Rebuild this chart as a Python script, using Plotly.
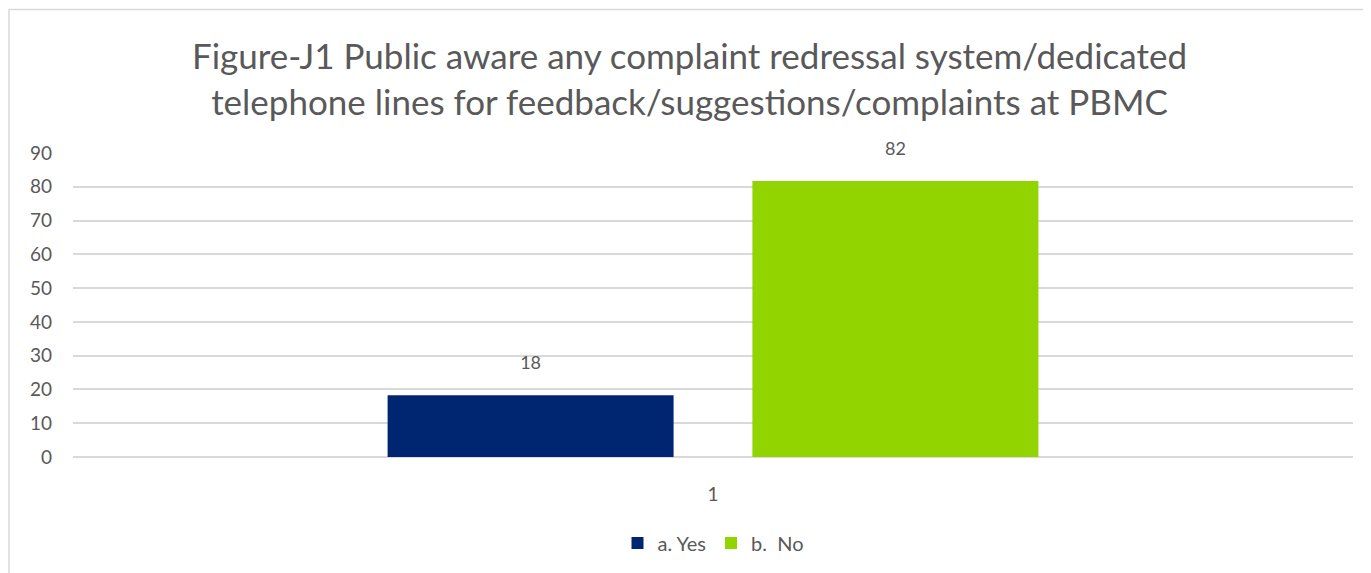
import plotly.graph_objects as go

categories = ["1"]
series_names = ["a. Yes", "b.  No"]
yes_values = [18.3]
no_values = [81.7]
colors = ["#002672", "#92D400"]
title_text = "Figure-J1 Public aware any complaint redressal system/dedicated<br>telephone lines for feedback/suggestions/complaints at PBMC"

FONT = "Lato, 'Open Sans', sans-serif"
GREY = "#595959"

fig = go.Figure()
for name, vals, col in zip(series_names, [yes_values, no_values], colors):
    fig.add_trace(go.Bar(
        x=categories, y=vals, name=name, marker_color=col,
        marker_line_width=0,
        texttemplate="%{y:.0f}<br><span style='font-size:1px'> </span>", textposition="outside",
        textfont=dict(size=18, color=GREY, family=FONT),
        cliponaxis=False,
    ))

# page body offsets the figure by 8px
OFF = 8
W, H = 1371 - OFF, 573 - OFF
L, R, T, B = 73 - OFF, 1371 - 1353, 153 - OFF, 573 - 458
pw, ph = W - L - R, H - T - B

fig.update_layout(
    width=W, height=H,
    margin=dict(l=L, r=R, t=T, b=B),
    paper_bgcolor="white", plot_bgcolor="white",
    barmode="group", bargap=0.43, bargroupgap=0.216,
    font=dict(family=FONT, color=GREY, size=18),
    title=dict(text=title_text, x=0.5, xanchor="center", y=1 - (69 - OFF) / H, yanchor="middle",
               font=dict(size=35, color=GREY, family=FONT)),
    showlegend=True,
    legend=dict(orientation="h", x=0.5, xanchor="center", y=(458 - 543) / ph, yanchor="middle",
                font=dict(size=20, color=GREY, family=FONT), itemwidth=30, traceorder="normal"),
    xaxis=dict(type="category", showgrid=False, showline=False, ticks="",
               tickfont=dict(size=19, color=GREY), ticklabelstandoff=24),
    yaxis=dict(range=[0, 90], dtick=10, showgrid=True, gridcolor="#d9d9d9", gridwidth=1.5,
               zeroline=True, zerolinecolor="#d9d9d9", zerolinewidth=1.5, showline=False,
               tickfont=dict(size=19, color=GREY), ticklabelstandoff=20),
)

fig.add_shape(type="rect", xref="paper", yref="paper",
              x0=(9 - 73) / pw, x1=(1371 + 5 - 73) / pw,
              y0=(458 - (573 + 5)) / ph, y1=1 + (153 - 9) / ph,
              line=dict(color="#d9d9d9", width=1.5), fillcolor="rgba(0,0,0,0)", layer="below")

fig.write_html("out.html")
